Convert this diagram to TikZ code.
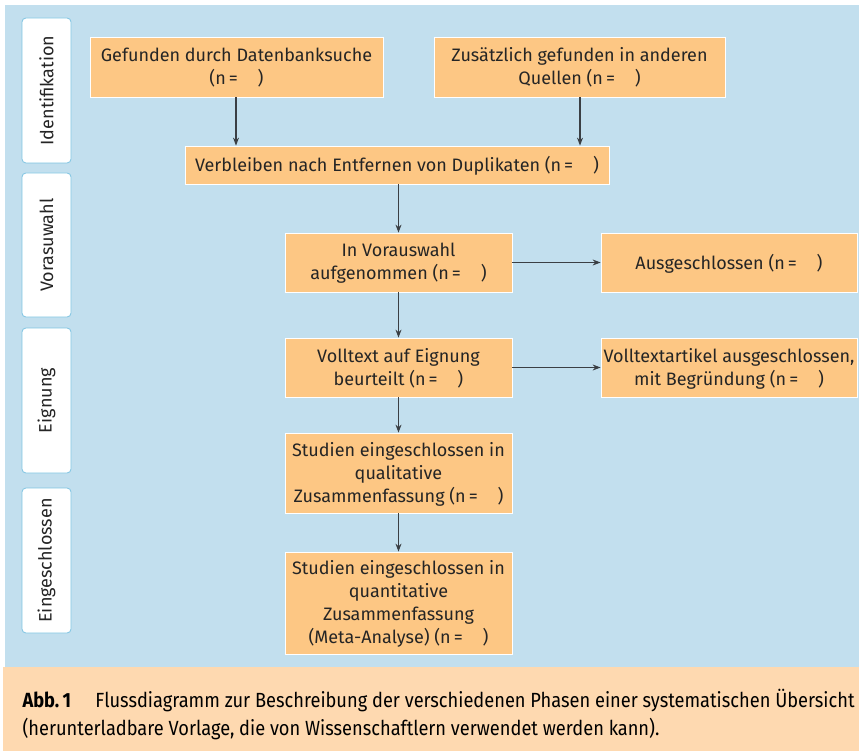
\documentclass[tikz,border=0pt]{standalone}
\usepackage{fontspec}
\setmainfont{Fira Sans}
\newfontfamily\capfont[FakeStretch=0.89]{Fira Sans}
\usetikzlibrary{arrows.meta}
\definecolor{bgblue}{HTML}{C2DFEE}
\definecolor{boxorange}{HTML}{FDC784}
\definecolor{cappeach}{HTML}{FED9B0}
\definecolor{framebl}{HTML}{7FC4E2}
\definecolor{inkgray}{HTML}{252525}
\definecolor{arrowgray}{HTML}{3A3F44}
\begin{document}
\begin{tikzpicture}[x=1pt, y=-1pt, font=\fontsize{18}{23}\selectfont, text=inkgray]
    \tikzstyle{arrow} = [line width=1.1pt, draw=arrowgray, -{Stealth[length=8pt, width=6pt]}]
    \tikzstyle{box} = [rectangle, fill=boxorange, draw=white, line width=0.8pt, inner sep=0pt, text depth=2pt, align=center]
    \tikzstyle{phase} = [rectangle, rounded corners=4pt, fill=white, draw=framebl, line width=0.8pt, minimum width=49pt, inner sep=0pt]
    \useasboundingbox (0,0) rectangle (859,751);
    \fill[bgblue] (5,5) rectangle (859,667);
    \fill[cappeach] (3,667) rectangle (859,751);

    % phases
    \node[phase, minimum height=145pt](P1) at (46.5,90.5){\rotatebox{90}{Identifikation}};
    \node[phase, minimum height=144pt](P2) at (46.5,245){\rotatebox{90}{Vorasuwahl}};
    \node[phase, minimum height=145pt](P3) at (46.5,400.5){\rotatebox{90}{Eignung}};
    \node[phase, minimum height=145pt](P4) at (46.5,560.5){\rotatebox{90}{Eingeschlossen}};

    % boxes
    \node[box, minimum width=293pt, minimum height=60pt](Gef) at (236.5,67){Gefunden durch Datenbanksuche\\(n\,=\hspace{1.1em})};
    \node[box, minimum width=291pt, minimum height=60pt](Zus) at (579.5,67){Zusätzlich gefunden in anderen\\Quellen (n\,=\hspace{1.1em})};
    \node[box, minimum width=424pt, minimum height=38pt](Verb) at (397,165){Verbleiben nach Entfernen von Duplikaten (n\,=\hspace{1.1em})};
    \node[box, minimum width=227pt, minimum height=59pt](Vor) at (398.5,262.5){In Vorauswahl\\aufgenommen (n\,=\hspace{1.1em})};
    \node[box, minimum width=256pt, minimum height=59pt](Aus) at (729,262.5){Ausgeschlossen (n\,=\hspace{1.1em})};
    \node[box, minimum width=227pt, minimum height=59pt](Voll) at (398.5,367.5){Volltext auf Eignung\\beurteilt (n\,=\hspace{1.1em})};
    \node[box, minimum width=256pt, minimum height=59pt](VollA) at (729,367.5){Volltextartikel ausgeschlossen,\\mit Begründung (n\,=\hspace{1.1em})};
    \node[box, minimum width=227pt, minimum height=80pt](Qual) at (398.5,473){Studien eingeschlossen in\\qualitative\\Zusammenfassung (n\,=\hspace{1.1em})};
    \node[box, minimum width=227pt, minimum height=102pt](Quant) at (398.5,603){Studien eingeschlossen in\\quantitative\\Zusammenfassung\\(Meta-Analyse) (n\,=\hspace{1.1em})};

    % caption
    \node[anchor=west, align=left, font=\capfont\fontsize{20.5}{28}\selectfont, text=black](Cap) at (19,715){\textbf{Abb.\,1}\hspace{0.95em} Flussdiagramm zur Beschreibung der verschiedenen Phasen einer systematischen Übersicht\\(herunterladbare Vorlage, die von Wissenschaftlern verwendet werden kann).};

    \draw[arrow] (Gef.south -| 236,0)--(Verb.north -| 236,0);
    \draw[arrow] (Zus.south -| 580,0)--(Verb.north -| 580,0);
    \draw[arrow] (Verb.south -| Vor.north)--(Vor.north);
    \draw[arrow] (Vor)--(Voll);
    \draw[arrow] (Voll)--(Qual);
    \draw[arrow] (Qual)--(Quant);
    \draw[arrow] (Vor)--(Aus);
    \draw[arrow] (Voll)--(VollA);

    \end{tikzpicture}
\end{document}
